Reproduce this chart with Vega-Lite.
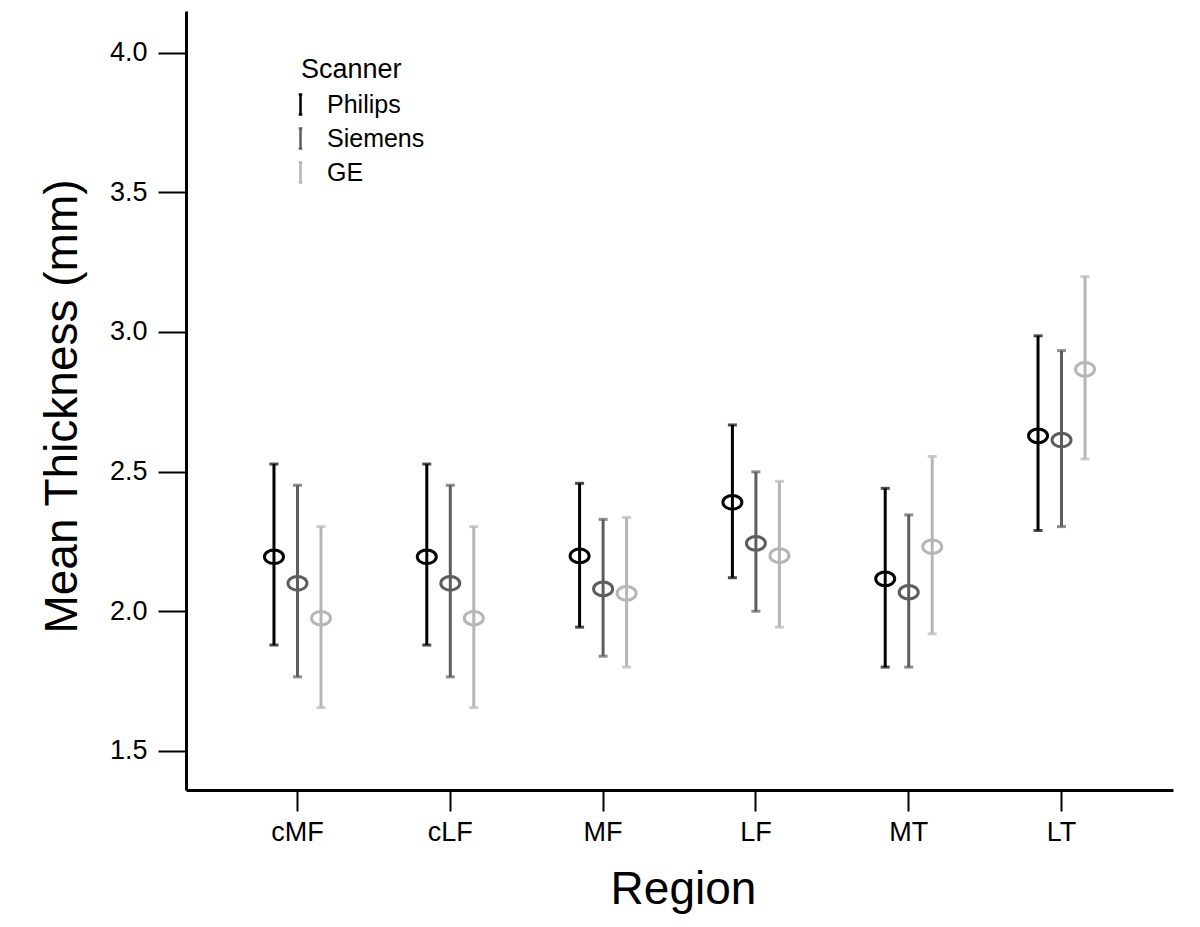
{
  "$schema": "https://vega.github.io/schema/vega-lite/v6.json",
  "width": 987,
  "height": 779,
  "padding": {"left": 186, "top": 11, "right": 27, "bottom": 137},
  "autosize": {"type": "none"},
  "background": "white",
  "config": {
    "view": {"stroke": null},
    "font": "Liberation Sans"
  },
  "data": {
    "values": [
      {"Region": "cMF", "Scanner": "Philips", "mean": 2.195, "lo": 1.879, "hi": 2.527},
      {"Region": "cMF", "Scanner": "Siemens", "mean": 2.100, "lo": 1.765, "hi": 2.451},
      {"Region": "cMF", "Scanner": "GE", "mean": 1.975, "lo": 1.655, "hi": 2.303},
      {"Region": "cLF", "Scanner": "Philips", "mean": 2.195, "lo": 1.879, "hi": 2.527},
      {"Region": "cLF", "Scanner": "Siemens", "mean": 2.100, "lo": 1.765, "hi": 2.451},
      {"Region": "cLF", "Scanner": "GE", "mean": 1.975, "lo": 1.655, "hi": 2.303},
      {"Region": "MF", "Scanner": "Philips", "mean": 2.198, "lo": 1.943, "hi": 2.458},
      {"Region": "MF", "Scanner": "Siemens", "mean": 2.080, "lo": 1.839, "hi": 2.329},
      {"Region": "MF", "Scanner": "GE", "mean": 2.064, "lo": 1.800, "hi": 2.336},
      {"Region": "LF", "Scanner": "Philips", "mean": 2.390, "lo": 2.120, "hi": 2.667},
      {"Region": "LF", "Scanner": "Siemens", "mean": 2.243, "lo": 2.000, "hi": 2.499},
      {"Region": "LF", "Scanner": "GE", "mean": 2.199, "lo": 1.943, "hi": 2.465},
      {"Region": "MT", "Scanner": "Philips", "mean": 2.116, "lo": 1.800, "hi": 2.440},
      {"Region": "MT", "Scanner": "Siemens", "mean": 2.068, "lo": 1.800, "hi": 2.345},
      {"Region": "MT", "Scanner": "GE", "mean": 2.231, "lo": 1.919, "hi": 2.554},
      {"Region": "LT", "Scanner": "Philips", "mean": 2.628, "lo": 2.289, "hi": 2.986},
      {"Region": "LT", "Scanner": "Siemens", "mean": 2.613, "lo": 2.303, "hi": 2.933},
      {"Region": "LT", "Scanner": "GE", "mean": 2.866, "lo": 2.545, "hi": 3.198}
    ]
  },
  "encoding": {
    "x": {
      "field": "Region",
      "type": "nominal",
      "sort": ["cMF", "cLF", "MF", "LF", "MT", "LT"],
      "scale": {"type": "band", "paddingInner": 0.231, "paddingOuter": 0.345},
      "axis": {
        "title": "Region",
        "titleFont": "Liberation Sans",
        "titleFontSize": 46,
        "titleFontWeight": "normal",
        "titleColor": "black",
        "titleX": 497,
        "titleY": 99,
        "titleBaseline": "middle",
        "titleAnchor": null,
        "labelFont": "Liberation Sans",
        "labelFontSize": 27,
        "labelColor": "black",
        "labelAngle": 0,
        "labelPadding": 8,
        "tickSize": 21,
        "tickWidth": 2,
        "tickColor": "black",
        "domainWidth": 3,
        "domainColor": "black",
        "grid": false
      }
    },
    "xOffset": {
      "field": "Scanner",
      "type": "nominal",
      "sort": ["Philips", "Siemens", "GE"],
      "scale": {"type": "band", "paddingInner": 0, "paddingOuter": 1}
    },
    "color": {
      "field": "Scanner",
      "type": "nominal",
      "sort": ["Philips", "Siemens", "GE"],
      "scale": {"domain": ["Philips", "Siemens", "GE"], "range": ["#000000", "#5e5e5e", "#b6b6b6"]},
      "legend": {
        "title": "Scanner",
        "orient": "none",
        "legendX": 115,
        "legendY": 46,
        "padding": 0,
        "titleFont": "Liberation Sans",
        "titleFontSize": 27,
        "titleFontWeight": "normal",
        "titleColor": "black",
        "titlePadding": 8,
        "labelFont": "Liberation Sans",
        "labelFontSize": 25,
        "labelColor": "black",
        "labelOffset": 14,
        "symbolOffset": -13,
        "symbolType": "M-0.35,-2L0.35,-2M0,-2L0,2M-0.35,2L0.35,2",
        "symbolSize": 100,
        "symbolStrokeWidth": 2.5,
        "symbolOpacity": 1,
        "symbolFillColor": "transparent",
        "rowPadding": 3
      }
    }
  },
  "layer": [
    {
      "mark": {"type": "rule", "strokeWidth": 3},
      "encoding": {
        "y": {
          "field": "lo",
          "type": "quantitative",
          "scale": {"domain": [1.36, 4.149], "nice": false, "zero": false},
          "axis": {
            "title": "Mean Thickness (mm)",
            "titleFont": "Liberation Sans",
            "titleFontSize": 46,
            "titleFontWeight": "normal",
            "titleColor": "black",
            "titleX": -124,
            "titleY": 395,
            "titleAngle": -90,
            "titleBaseline": "middle",
            "titleAnchor": null,
            "values": [1.5, 2.0, 2.5, 3.0, 3.5, 4.0],
            "format": ".1f",
            "labelFont": "Liberation Sans",
            "labelFontSize": 27,
            "labelColor": "black",
            "labelPadding": 11,
            "tickSize": 28,
            "tickWidth": 2,
            "tickColor": "black",
            "domainWidth": 3,
            "domainColor": "black",
            "grid": false
          }
        },
        "y2": {"field": "hi"}
      }
    },
    {
      "mark": {"type": "tick", "orient": "horizontal", "size": 9, "thickness": 3},
      "encoding": {"y": {"field": "lo", "type": "quantitative"}}
    },
    {
      "mark": {"type": "tick", "orient": "horizontal", "size": 9, "thickness": 3},
      "encoding": {"y": {"field": "hi", "type": "quantitative"}}
    },
    {
      "mark": {"type": "point", "filled": false, "fill": "white", "fillOpacity": 0, "strokeWidth": 3, "opacity": 1, "shape": "M-1,0A1,0.72 0 1,0 1,0A1,0.72 0 1,0 -1,0Z", "size": 361},
      "encoding": {"y": {"field": "mean", "type": "quantitative"}}
    }
  ]
}
